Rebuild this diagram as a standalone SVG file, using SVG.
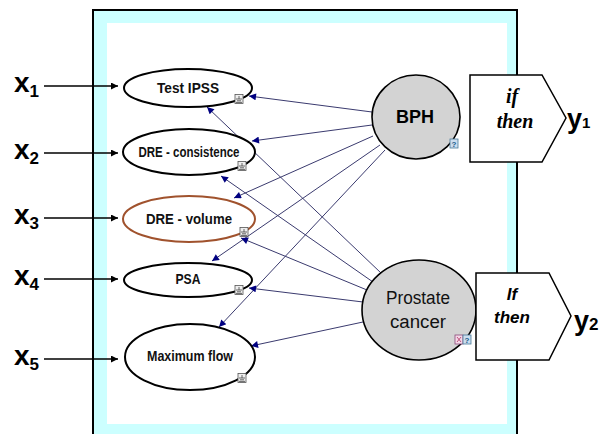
<svg xmlns="http://www.w3.org/2000/svg" width="608" height="434" viewBox="0 0 608 434">
<style>
.lbl{font-family:"Liberation Sans",Arial,sans-serif;font-weight:bold;fill:#000}
.nl{font-family:"Liberation Sans",Arial,sans-serif;font-weight:bold;font-size:15px;fill:#111;text-anchor:middle}
.ell{fill:#fff;stroke:#000;stroke-width:2}
.hid{fill:#d3d3d3;stroke:#000;stroke-width:1.6}
.con{stroke:#3a3a6e;stroke-width:1;fill:none}
.inp{stroke:#000;stroke-width:1.6;fill:none}
.ico{fill:#eee;stroke:#555;stroke-width:0.8}
.icl{stroke:#444;stroke-width:0.8}
.box{fill:#fff;stroke:#000;stroke-width:1.5}
</style>
<defs>
<marker id="ah" viewBox="0 0 10 10" refX="10" refY="5" markerWidth="10" markerHeight="7" markerUnits="userSpaceOnUse" orient="auto">
<path d="M0,0 L10,5 L0,10 z" fill="#000080"/>
</marker>
<marker id="ak" viewBox="0 0 10 10" refX="10" refY="5" markerWidth="8" markerHeight="7" markerUnits="userSpaceOnUse" orient="auto">
<path d="M0,0 L10,5 L0,10 z" fill="#000"/>
</marker>
<g id="gi">
<rect class="ico" x="-4" y="-4.5" width="8" height="9"/>
<line class="icl" x1="0" y1="-3" x2="0" y2="0"/>
<line class="icl" x1="-3" y1="0" x2="3" y2="0"/>
<line class="icl" x1="-2" y1="1.8" x2="2" y2="1.8"/>
<line class="icl" x1="-3" y1="3.4" x2="3" y2="3.4"/>
</g>
</defs>

<g id="frame">
<rect x="93" y="10" width="424" height="440" fill="#ccffff" stroke="#000" stroke-width="2"/>
<rect x="107" y="23" width="400" height="401" fill="#fff"/>
</g>

<g id="inputs">
<line class="inp" x1="44" y1="86" x2="118" y2="86" marker-end="url(#ak)"/>
<line class="inp" x1="44" y1="153" x2="118" y2="153" marker-end="url(#ak)"/>
<line class="inp" x1="44" y1="218" x2="118" y2="218" marker-end="url(#ak)"/>
<line class="inp" x1="44" y1="279" x2="118" y2="279" marker-end="url(#ak)"/>
<line class="inp" x1="44" y1="359" x2="118" y2="359" marker-end="url(#ak)"/>
<text class="lbl" x="14" y="92" font-size="28">x<tspan font-size="17" dy="5">1</tspan></text>
<text class="lbl" x="14" y="159" font-size="28">x<tspan font-size="17" dy="5">2</tspan></text>
<text class="lbl" x="14" y="224" font-size="28">x<tspan font-size="17" dy="5">3</tspan></text>
<text class="lbl" x="14" y="285" font-size="28">x<tspan font-size="17" dy="5">4</tspan></text>
<text class="lbl" x="14" y="365" font-size="28">x<tspan font-size="17" dy="5">5</tspan></text>
</g>

<g id="connectors">
<line class="con" x1="372" y1="112" x2="249" y2="96" marker-end="url(#ah)"/>
<line class="con" x1="372" y1="125" x2="252" y2="141" marker-end="url(#ah)"/>
<line class="con" x1="373" y1="136" x2="234" y2="198" marker-end="url(#ah)"/>
<line class="con" x1="380" y1="145" x2="212" y2="261" marker-end="url(#ah)"/>
<line class="con" x1="385" y1="150" x2="219" y2="327" marker-end="url(#ah)"/>
<line class="con" x1="381" y1="273" x2="207" y2="107" marker-end="url(#ah)"/>
<line class="con" x1="373" y1="282" x2="221" y2="176" marker-end="url(#ah)"/>
<line class="con" x1="367" y1="290" x2="241" y2="238" marker-end="url(#ah)"/>
<line class="con" x1="363" y1="302" x2="249" y2="288" marker-end="url(#ah)"/>
<line class="con" x1="363" y1="322" x2="251" y2="346" marker-end="url(#ah)"/>
</g>

<g id="n-ipss">
<ellipse class="ell" cx="188" cy="88" rx="64" ry="19"/>
<text class="nl" x="188" y="93" textLength="62" lengthAdjust="spacingAndGlyphs">Test IPSS</text>
<use href="#gi" x="239" y="99"/>
</g>
<g id="n-dre-cons">
<ellipse class="ell" cx="189" cy="152" rx="66" ry="23"/>
<text class="nl" x="189" y="157" textLength="101" lengthAdjust="spacingAndGlyphs">DRE - consistence</text>
<use href="#gi" x="242" y="166"/>
</g>
<g id="n-dre-vol">
<ellipse class="ell" cx="189" cy="219" rx="66" ry="23" style="stroke:#a0522d"/>
<text class="nl" x="189" y="224" textLength="86" lengthAdjust="spacingAndGlyphs">DRE - volume</text>
<use href="#gi" x="244" y="232"/>
</g>
<g id="n-psa">
<ellipse class="ell" cx="188" cy="280" rx="64" ry="17"/>
<text class="nl" x="188" y="284" textLength="25" lengthAdjust="spacingAndGlyphs">PSA</text>
<use href="#gi" x="239" y="290"/>
</g>
<g id="n-maxflow">
<ellipse class="ell" cx="190" cy="357" rx="65" ry="33"/>
<text class="nl" x="190" y="361" textLength="86" lengthAdjust="spacingAndGlyphs">Maximum flow</text>
<use href="#gi" x="242" y="378"/>
</g>

<g id="n-bph">
<ellipse class="hid" cx="416" cy="117" rx="44" ry="42"/>
<text class="lbl" x="415" y="123" font-size="18" text-anchor="middle">BPH</text>
<rect x="450" y="139" width="8" height="9" fill="#cde" stroke="#4a7a9a" stroke-width="0.8"/>
<text x="454" y="147" font-family="Liberation Sans,Arial,sans-serif" font-size="8" font-weight="bold" fill="#1a5a8a" text-anchor="middle">?</text>
</g>

<g id="n-pc">
<ellipse class="hid" cx="419" cy="310" rx="57" ry="50"/>
<text x="418" y="304" font-family="Liberation Sans,Arial,sans-serif" font-size="18" fill="#111" text-anchor="middle" textLength="64" lengthAdjust="spacingAndGlyphs">Prostate</text>
<text x="418" y="328" font-family="Liberation Sans,Arial,sans-serif" font-size="18" fill="#111" text-anchor="middle" textLength="56" lengthAdjust="spacingAndGlyphs">cancer</text>
<rect x="455" y="335" width="8" height="9" fill="#f4d8e8" stroke="#8a4a7a" stroke-width="0.8"/>
<line x1="457" y1="337" x2="461" y2="342" stroke="#b03060" stroke-width="0.8"/>
<line x1="461" y1="337" x2="457" y2="342" stroke="#b03060" stroke-width="0.8"/>
<rect x="463" y="335" width="8" height="9" fill="#cde" stroke="#4a7a9a" stroke-width="0.8"/>
<text x="467" y="343" font-family="Liberation Sans,Arial,sans-serif" font-size="8" font-weight="bold" fill="#1a5a8a" text-anchor="middle">?</text>
</g>

<g id="n-rule1">
<polygon class="box" points="470,75 542,75 566,118 542,162 470,162"/>
<text x="512" y="103" font-family="Liberation Serif,'Times New Roman',serif" font-size="20" font-weight="bold" font-style="italic" text-anchor="middle">if</text>
<text x="515" y="128" font-family="Liberation Serif,'Times New Roman',serif" font-size="20" font-weight="bold" font-style="italic" text-anchor="middle">then</text>
<text class="lbl" x="567" y="128" font-size="27">y<tspan font-size="15">1</tspan></text>
</g>

<g id="n-rule2">
<polygon class="box" points="476,273 549,273 571,316 549,360 476,360"/>
<text x="512" y="300" font-family="Liberation Sans,Arial,sans-serif" font-size="17" font-weight="bold" font-style="italic" text-anchor="middle">If</text>
<text x="512" y="323" font-family="Liberation Sans,Arial,sans-serif" font-size="17" font-weight="bold" font-style="italic" text-anchor="middle">then</text>
<text class="lbl" x="574" y="330" font-size="27">y<tspan font-size="17">2</tspan></text>
</g>
</svg>
